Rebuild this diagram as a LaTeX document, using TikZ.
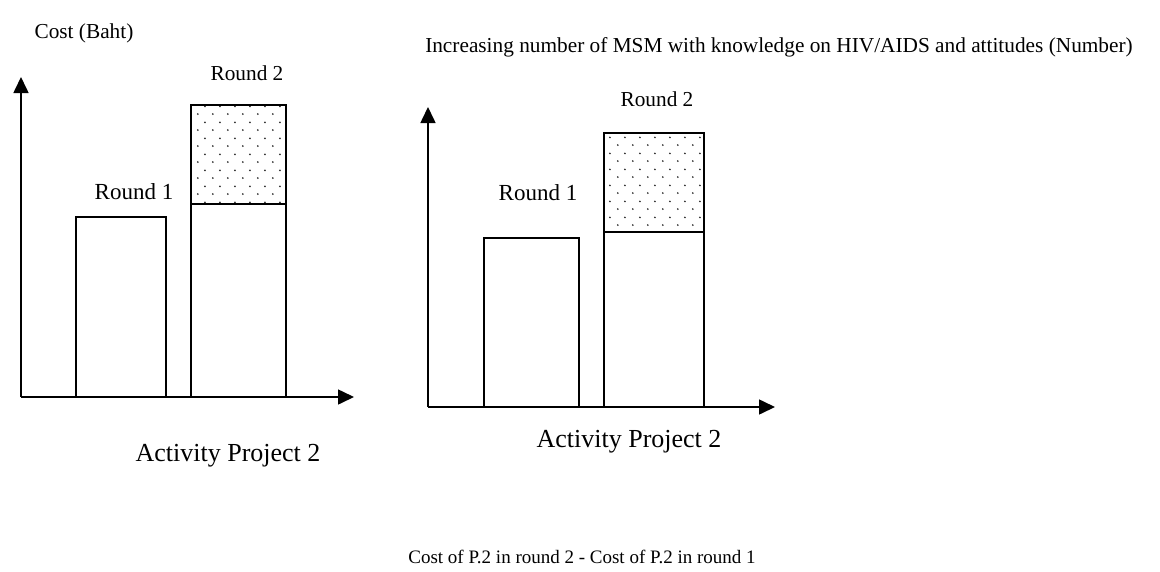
\documentclass[tikz,border=0pt]{standalone}
\usepackage{fontspec}
\setmainfont{Liberation Serif}
\usetikzlibrary{arrows.meta,patterns.meta,positioning}

\tikzdeclarepattern{
  name=sparsedots,
  type=uncolored,
  bounding box={(0pt,0pt) and (15pt,15.6pt)},
  tile size={(15pt,15.6pt)},
  code={
    \fill (3pt,3pt) circle (1pt);
    \fill (10.5pt,10.8pt) circle (1pt);
  }
}

\tikzset{
  axis/.style={line width=1.6pt, -{Triangle[length=16pt,width=15pt]}},
  bar/.style={line width=1.4pt},
  extra/.style={bar, pattern=sparsedots, pattern color=black!85},
  lbl/.style={font=\fontsize{23}{26}\selectfont, inner sep=0pt},
  small/.style={font=\fontsize{21.3}{24}\selectfont, inner sep=0pt},
}

\begin{document}
\begin{tikzpicture}[x=1pt,y=-1pt]
	\useasboundingbox (0,0) rectangle (1160,571);

	% left chart: cost
	\coordinate (o1) at (21,397);
	\coordinate (ytop1) at (21,77);
	\coordinate (xend1) at (354,397);
	\draw[bar] (76,397) rectangle (166,217);
	\draw[bar] (191,397) rectangle (286,204);
	\draw[extra] (191,204) rectangle (286,105);
	\draw[axis] (o1) -- (ytop1);
	\draw[axis] (o1) -- (xend1);
	\node[small] (cost) at (84,33) {Cost (Baht)};
	\node[lbl] (r1a) at (134,192) {Round 1};
	\node[small] (r2a) at (247,73) {Round 2};
	\node[lbl, font=\fontsize{26}{30}\selectfont] (act1) at (228,456) {Activity Project 2};

	% right chart: MSM number
	\coordinate (o2) at (428,407);
	\coordinate (ytop2) at (428,107);
	\coordinate (xend2) at (775,407);
	\draw[bar] (484,407) rectangle (579,238);
	\draw[bar] (604,407) rectangle (704,232);
	\draw[extra] (604,232) rectangle (704,133);
	\draw[axis] (o2) -- (ytop2);
	\draw[axis] (o2) -- (xend2);
	\node[small] (msm) at (779,47) {Increasing number of MSM with knowledge on HIV/AIDS and attitudes (Number)};
	\node[lbl] (r1b) at (538,193) {Round 1};
	\node[small] (r2b) at (657,99) {Round 2};
	\node[lbl, font=\fontsize{26}{30}\selectfont] (act2) at (629,442) {Activity Project 2};

	\node[small, font=\fontsize{19}{22}\selectfont] (diff) at (582,557) {Cost of P.2 in round 2 - Cost of P.2 in round 1};
\end{tikzpicture}
\end{document}
